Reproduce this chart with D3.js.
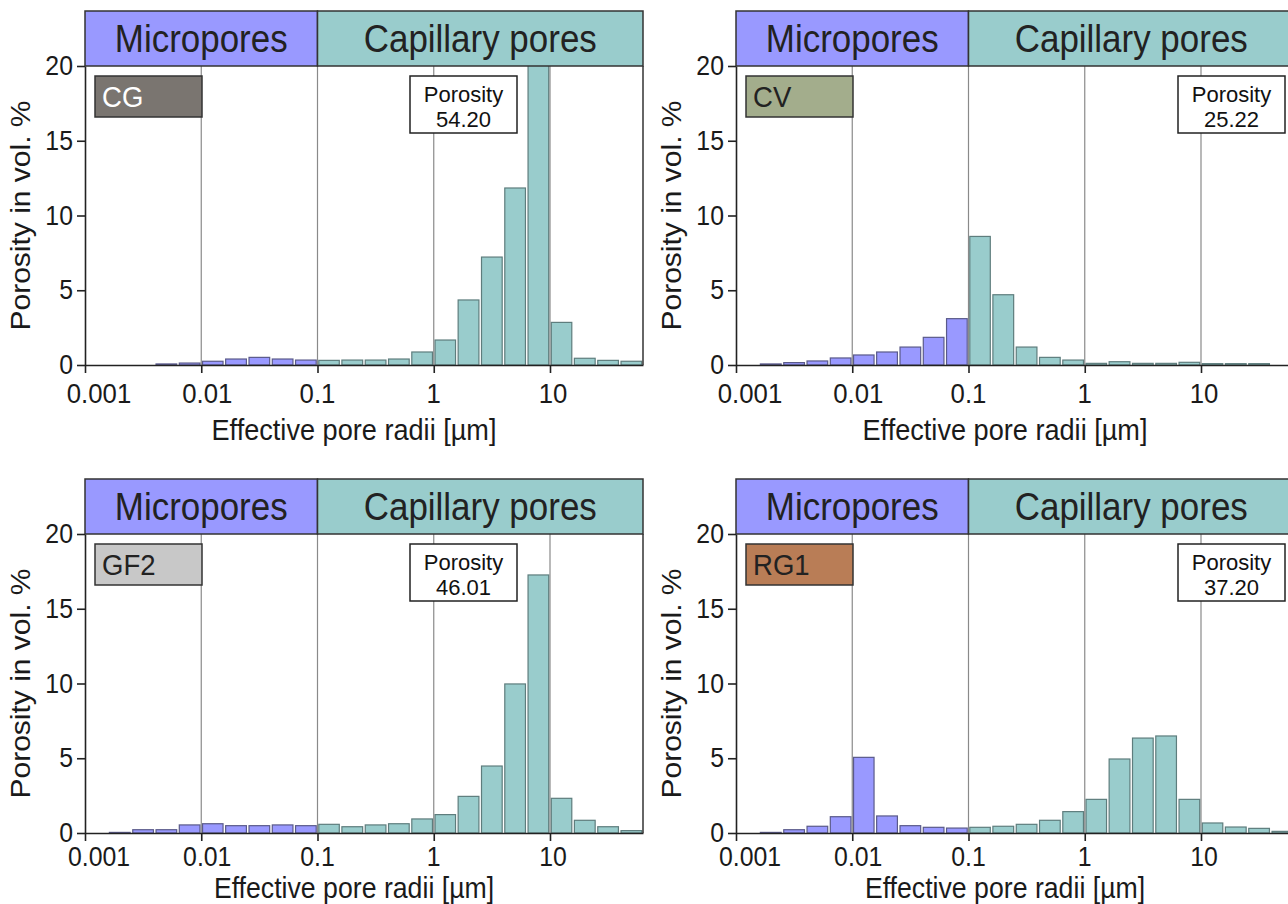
<!DOCTYPE html>
<html>
<head>
<meta charset="utf-8">
<script src="https://cdn.jsdelivr.net/npm/d3@7"></script>
<style>
  html, body { margin: 0; padding: 0; background: #fff; }
  svg { display: block; }
</style>
</head>
<body>
<svg id="chart" width="1288" height="904"></svg>
<script>
// ---- data ----
// bin edges of effective pore radii [µm] (5 bins per decade)
const binEdges = [0.001, 0.00158, 0.00251, 0.00398, 0.00631,
                  0.01, 0.0158, 0.0251, 0.0398, 0.0631,
                  0.1, 0.158, 0.251, 0.398, 0.631,
                  1, 1.58, 2.51, 3.98, 6.31,
                  10, 15.8, 25.1, 39.8, 63.1];
const samples = ["CG", "CV", "GF2", "RG1"];
const cgValues  = [0, 0, 0, 0.07, 0.13, 0.25, 0.40, 0.51, 0.40, 0.33, 0.31, 0.33, 0.33, 0.40, 0.87, 1.67, 4.35, 7.22, 11.84, 20.9, 2.85, 0.45, 0.31, 0.25];
const cvValues  = [0, 0.07, 0.16, 0.27, 0.47, 0.67, 0.87, 1.20, 1.85, 3.10, 8.60, 4.70, 1.20, 0.51, 0.33, 0.11, 0.22, 0.11, 0.11, 0.18, 0.09, 0.09, 0.09, 0];
const gf2Values = [0, 0.04, 0.22, 0.22, 0.54, 0.62, 0.49, 0.49, 0.54, 0.49, 0.58, 0.42, 0.54, 0.62, 0.94, 1.23, 2.45, 4.48, 9.97, 17.26, 2.32, 0.85, 0.42, 0.16];
const rg1Values = [0, 0.04, 0.22, 0.45, 1.09, 5.06, 1.14, 0.49, 0.38, 0.33, 0.38, 0.45, 0.58, 0.85, 1.43, 2.25, 4.95, 6.35, 6.49, 2.25, 0.67, 0.40, 0.31, 0.11];
const totalPorosity = ["54.20", "25.22", "46.01", "37.20"];
const classNames = ["Micropores", "Capillary pores"];
const classLimits = [0.001, 0.1, 63.1];
const xTickValues = [0.001, 0.01, 0.1, 1, 10];
const xTickLabels = ["0.001", "0.01", "0.1", "1", "10"];
const yTickValues = [0, 5, 10, 15, 20];
const xTitle = "Effective pore radii [µm]";
const yTitle = "Porosity in vol. %";
const porosityWord = "Porosity";

// ---- styles / layout ----
const seriesList = [cgValues, cvValues, gf2Values, rg1Values];
const sampleFill = ["#7a7570", "#a3ad8c", "#c8c8c8", "#b97d56"];
const sampleText = ["#ffffff", "#222222", "#222222", "#222222"];
const classFill = ["#9999ff", "#99cccc"];
const layout = [
  {x0: 85,  base: 365, porX: 410,  tickDy: 38, tickFs: 28, titleDy: 75, titleFs: 29.5},
  {x0: 736, base: 365, porX: 1178, tickDy: 38, tickFs: 28, titleDy: 75, titleFs: 29.5},
  {x0: 85,  base: 833, porX: 410,  tickDy: 33, tickFs: 27, titleDy: 65, titleFs: 29},
  {x0: 736, base: 833, porX: 1178, tickDy: 33, tickFs: 27, titleDy: 65, titleFs: 29}
];
const plotW = 558, plotH = 299, headerH = 55;
const FONT = "'Liberation Sans', Arial, Helvetica, sans-serif";
const SX = 0.92;
const labelDx = [14, 6, 0, 0, 3];

const svg = d3.select("#chart");
svg.append("rect").attr("width", 1288).attr("height", 904).attr("fill", "#fff");

function addText(g, str, x, y, size, opts = {}) {
  const t = g.append("text")
    .attr("transform", `translate(${x},${y})` + (opts.rotate ? " rotate(-90) scale(1," + SX + ")" : ` scale(${opts.sx || SX},1)`))
    .attr("font-family", FONT)
    .attr("font-size", size)
    .attr("fill", opts.fill || "#222")
    .attr("text-anchor", opts.anchor || "middle")
    .text(str);
  return t;
}

samples.forEach((name, i) => {
  const L = layout[i];
  const values = seriesList[i];
  const x = d3.scaleLog().domain([binEdges[0], binEdges[binEdges.length - 1]]).range([L.x0, L.x0 + plotW]);
  const y = d3.scaleLinear().domain([0, 20]).range([L.base, L.base - plotH]);
  const top = y(20);
  const g = svg.append("g");

  // gridlines at decades
  g.selectAll("line.grid").data(xTickValues.slice(1)).join("line")
    .attr("x1", d => x(d)).attr("x2", d => x(d))
    .attr("y1", y(0)).attr("y2", top)
    .attr("stroke", "#8a8a8a").attr("stroke-width", 1.2);

  // bars
  const bins = values.map((v, k) => ({v, lo: binEdges[k], hi: binEdges[k + 1]})).filter(d => d.v > 0);
  g.selectAll("rect.bar").data(bins).join("rect")
    .attr("x", d => x(d.lo) + 1.3)
    .attr("width", d => x(d.hi) - x(d.lo) - 2.6)
    .attr("y", d => y(d.v))
    .attr("height", d => y(0) - y(d.v))
    .attr("fill", d => d.lo < 0.1 ? classFill[0] : classFill[1])
    .attr("stroke", d => d.lo < 0.1 ? "#5a5a8a" : "#5e7d7d")
    .attr("stroke-width", 1.2);

  // right border of plot
  g.append("line")
    .attr("x1", L.x0 + plotW).attr("x2", L.x0 + plotW)
    .attr("y1", y(0)).attr("y2", top)
    .attr("stroke", "#333").attr("stroke-width", 1.5);

  // header classes
  classNames.forEach((c, k) => {
    const xa = x(classLimits[k]), xb = x(classLimits[k + 1]);
    g.append("rect")
      .attr("x", xa).attr("y", top - headerH)
      .attr("width", xb - xa).attr("height", headerH)
      .attr("fill", classFill[k]).attr("stroke", "#333").attr("stroke-width", 1.5);
    addText(g, c, (xa + xb) / 2, top - headerH / 2 + 13, 38, {fill: "#222"});
  });

  // x axis
  const xAxis = d3.axisBottom(x).tickValues(xTickValues).tickFormat((d, k) => xTickLabels[k])
    .tickSizeInner(8).tickSizeOuter(0).tickPadding(6);
  const xg = g.append("g").attr("transform", `translate(0,${y(0)})`).call(xAxis);
  xg.select(".domain").attr("stroke", "#222").attr("stroke-width", 1.6);
  xg.selectAll(".tick line").attr("stroke", "#222").attr("stroke-width", 1.6);
  xg.selectAll(".tick text").remove();
  xTickValues.forEach((v, k) => {
    addText(g, xTickLabels[k], x(v) + labelDx[k], y(0) + L.tickDy, L.tickFs, {fill: "#1a1a1a"});
  });
  addText(g, xTitle, L.x0 + 269, y(0) + L.titleDy, L.titleFs, {fill: "#1a1a1a"});

  // y axis
  const yAxis = d3.axisLeft(y).tickValues(yTickValues).tickSizeInner(8).tickSizeOuter(0);
  const yg = g.append("g").attr("transform", `translate(${L.x0},0)`).call(yAxis);
  yg.select(".domain").attr("stroke", "#222").attr("stroke-width", 1.6);
  yg.selectAll(".tick line").attr("stroke", "#222").attr("stroke-width", 1.6);
  yg.selectAll(".tick text").remove();
  yTickValues.forEach(v => {
    addText(g, String(v), L.x0 - 12, y(v) + 9, 27, {fill: "#1a1a1a", anchor: "end"});
  });
  addText(g, yTitle, L.x0 - 55, (y(0) + top) / 2, 30, {rotate: true, fill: "#1a1a1a"});

  // sample label box
  g.append("rect")
    .attr("x", L.x0 + 10).attr("y", top + 10).attr("width", 107).attr("height", 41)
    .attr("fill", sampleFill[i]).attr("stroke", "#333").attr("stroke-width", 1.5);
  addText(g, name, L.x0 + 17, top + 41, 29, {anchor: "start", fill: sampleText[i], sx: 0.95});

  // porosity box
  g.append("rect")
    .attr("x", L.porX).attr("y", top + 10).attr("width", 107).attr("height", 57)
    .attr("fill", "#fff").attr("stroke", "#222").attr("stroke-width", 1.5);
  addText(g, porosityWord, L.porX + 53.5, top + 36, 22, {fill: "#111", sx: 1});
  addText(g, totalPorosity[i], L.porX + 53.5, top + 61, 22, {fill: "#111", sx: 1});
});
</script>
</body>
</html>
